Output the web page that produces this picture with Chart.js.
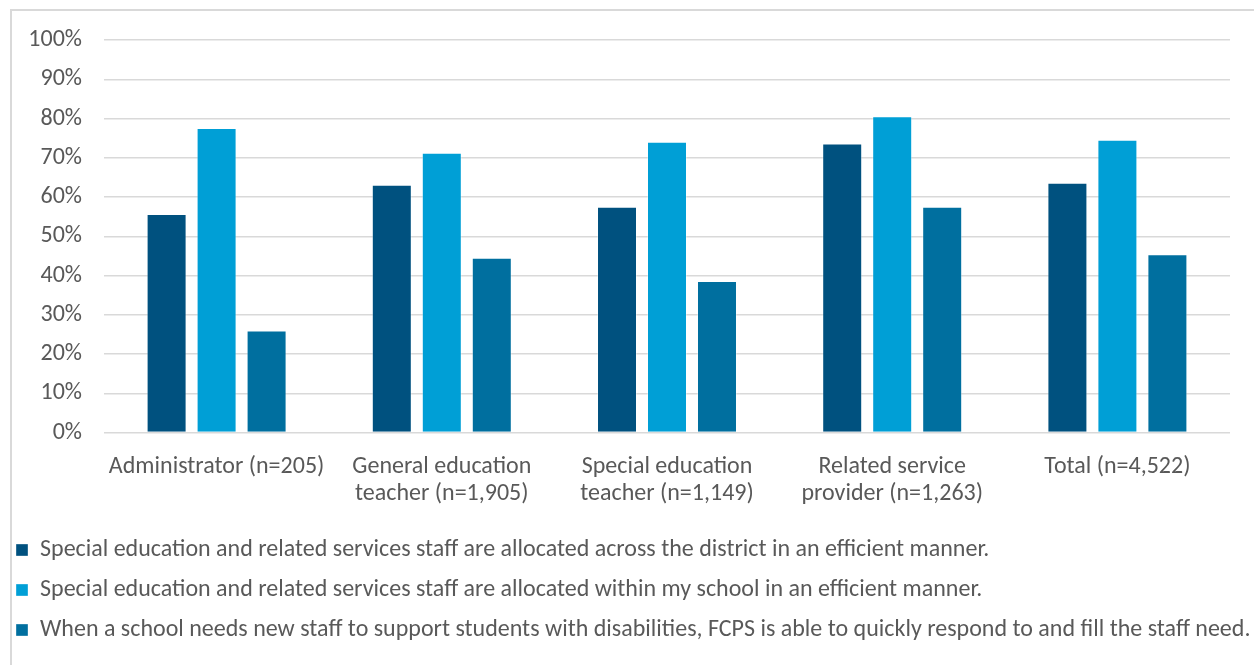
<!DOCTYPE html>
<html>
<head>
<meta charset="utf-8">
<script src="https://cdn.jsdelivr.net/npm/chart.js@4"></script>
<style>
  html, body { margin: 0; padding: 0; background: #fff; }
  #wrap { position: relative; width: 1254px; height: 665px; overflow: hidden; }
  #frame { position: absolute; left: 10px; top: 9px; width: 1260px; height: 680px; border: 2px solid #d9d9d9; box-sizing: border-box; }
  canvas { position: absolute; left: 0; top: 0; }
</style>
</head>
<body>
<div id="wrap">
  <div id="frame"></div>
  <canvas id="staffChart" width="1254" height="665"></canvas>
</div>
<script>
const groups = [
  "Administrator (n=205)",
  ["General education", "teacher (n=1,905)"],
  ["Special education", "teacher (n=1,149)"],
  ["Related service", "provider (n=1,263)"],
  "Total (n=4,522)"
];

const acrossDistrict = [55.7, 63.1, 57.5, 73.6, 63.6];
const withinSchool = [77.6, 71.3, 74.1, 80.6, 74.6];
const quickResponse = [26.0, 44.5, 38.6, 57.5, 45.4];

const seriesNames = [
  "Special education and related services staff are allocated across the district in an efficient manner.",
  "Special education and related services staff are allocated within my school in an efficient manner.",
  "When a school needs new staff to support students with disabilities, FCPS is able to quickly respond to and fill the staff need."
];

const FONT = 'Carlito, Calibri, Lato, sans-serif';
const TEXT = '#595959';

const bar = (label, data, color) => ({
  label: label,
  data: data,
  backgroundColor: color,
  borderColor: 'rgba(255,255,255,0.35)',
  borderWidth: 1,
  borderSkipped: 'bottom',
  barPercentage: 0.8,
  categoryPercentage: 0.666
});

new Chart(document.getElementById('staffChart'), {
  type: 'bar',
  data: {
    labels: groups,
    datasets: [
      bar(seriesNames[0], acrossDistrict, '#00517f'),
      bar(seriesNames[1], withinSchool, '#009fd6'),
      bar(seriesNames[2], quickResponse, '#006f9f')
    ]
  },
  options: {
    responsive: false,
    animation: false,
    layout: { padding: { left: 0, right: 0, top: 40, bottom: 13 } },
    plugins: {
      tooltip: { enabled: false },
      legend: {
        position: 'bottom',
        align: 'start',
        labels: {
          color: TEXT,
          font: { family: FONT, size: 24 },
          boxWidth: 12,
          boxHeight: 12,
          padding: 16
        }
      }
    },
    scales: {
      x: {
        grid: { display: false },
        border: { display: false },
        ticks: {
          color: TEXT,
          font: { family: FONT, size: 24, lineHeight: 1.12 },
          maxRotation: 0,
          autoSkip: false,
          padding: 13
        },
        afterFit: s => { s.height = 89.5; }
      },
      y: {
        min: 0,
        max: 100,
        grid: { color: '#d9d9d9', lineWidth: 1.5, drawTicks: false },
        border: { display: false },
        ticks: {
          stepSize: 10,
          color: TEXT,
          font: { family: FONT, size: 24 },
          padding: 22,
          callback: v => v + '%'
        },
        afterFit: s => { s.width = 104; }
      },
      // empty right-hand axis: keeps the plot clear of the right edge
      // while the legend still gets the full width
      gutter: {
        position: 'right',
        grid: { display: false },
        border: { display: false },
        ticks: { display: false },
        afterFit: s => { s.width = 24; }
      }
    }
  }
});
</script>
</body>
</html>
